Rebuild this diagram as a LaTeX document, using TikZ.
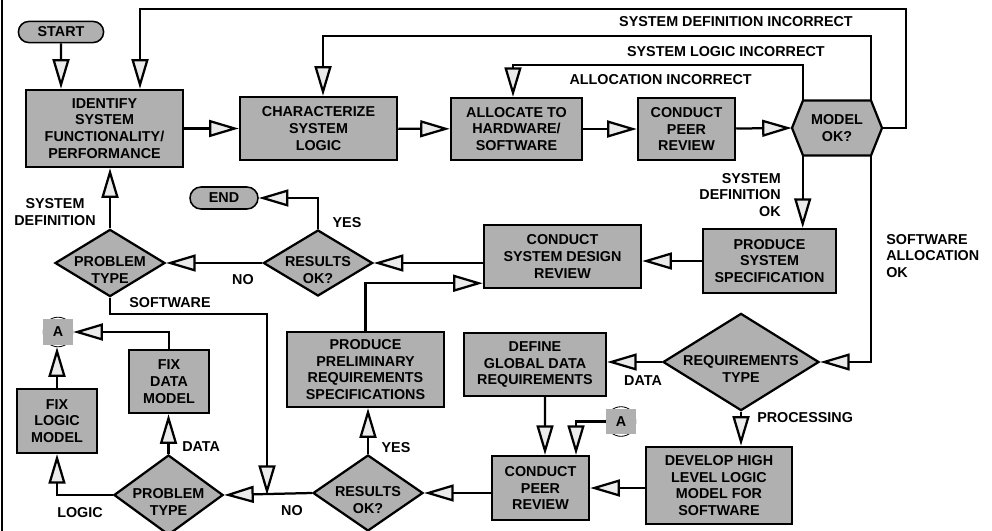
\documentclass[tikz,border=0pt]{standalone}
\usepackage{fontspec}
\setmainfont{Liberation Sans}
\usepackage{xcolor}
\usepackage{tikz}
\usetikzlibrary{arrows.meta, positioning, shapes.geometric, shapes.misc, calc}

\definecolor{boxgray}{gray}{0.69}
\definecolor{tipgray}{gray}{0.92}

\tikzset{
  flowtext/.style={font=\fontsize{10.2}{11.9}\selectfont\bfseries},
  process/.style={flowtext, draw, line width=1.6pt, fill=boxgray, align=center, inner sep=0pt},
  terminal/.style={flowtext, rounded rectangle, draw, line width=1.1pt, fill=boxgray, inner sep=0pt},
  decision/.style={diamond, draw, line width=1.6pt, fill=boxgray, inner sep=0pt},
  dtext/.style={flowtext, align=center, inner sep=0pt, yshift=-0.17cm},
  connector/.style={circle, draw, line width=0.6pt, minimum size=0.74cm, inner sep=0pt},
  csquare/.style={flowtext, fill=boxgray, minimum width=0.75cm, minimum height=0.64cm, inner sep=0pt},
  flow/.style={line width=1.6pt, -{Triangle[length=21pt, width=12pt, fill=tipgray]}},
  wire/.style={line width=1.6pt},
  tag/.style={flowtext, inner sep=0pt},
}

\begin{document}
\begin{tikzpicture}[x=0.025cm, y=-0.025cm]
  % grid of the source sheet: 992 x 531, y runs downwards
  \useasboundingbox (0,0) rectangle (992,531);
  \draw[line width=1.2pt] (2,0) -- (2,531);

  % top row
  \node[terminal, minimum width=2.13cm, minimum height=0.53cm] (start) at (61,32) {START};
  \node[process, minimum width=3.93cm, minimum height=1.93cm] (ident) at (104.5,128.5) {IDENTIFY\\SYSTEM\\FUNCTIONALITY/\\PERFORMANCE};
  \node[process, minimum width=3.93cm, minimum height=1.58cm] (charlogic) at (318.5,128.5) {CHARACTERIZE\\SYSTEM\\LOGIC};
  \node[process, minimum width=3.28cm, minimum height=1.55cm] (alloc) at (516.5,129) {ALLOCATE TO\\HARDWARE/\\SOFTWARE};
  \node[process, minimum width=2.43cm, minimum height=1.55cm] (peertop) at (686.5,129) {CONDUCT\\PEER\\REVIEW};

  % MODEL OK? hexagon, drawn round its centre
  \coordinate (mc) at (837,128);
  \filldraw[wire, fill=boxgray] ($(mc)+(-45,0)$) -- ($(mc)+(-34,-27.5)$) -- ($(mc)+(34,-27.5)$)
    -- ($(mc)+(45,0)$) -- ($(mc)+(34,27.5)$) -- ($(mc)+(-34,27.5)$) -- cycle;
  \node[flowtext, align=center, minimum width=2.25cm, minimum height=1.375cm, inner sep=0pt] (model) at (mc) {MODEL\\OK?};
  \coordinate (mtl) at ($(model.north west)+(11,0)$);
  \coordinate (mtr) at ($(model.north east)+(-11,0)$);
  \coordinate (mbl) at ($(model.south west)+(11,0)$);
  \coordinate (mbr) at ($(model.south east)+(-11,0)$);

  % middle row
  \node[process, minimum width=3.33cm, minimum height=1.6cm] (sysspec) at (769.5,261) {PRODUCE\\SYSTEM\\SPECIFICATION};
  \node[process, minimum width=3.93cm, minimum height=1.58cm] (design) at (562.5,256.5) {CONDUCT\\SYSTEM DESIGN\\REVIEW};
  \node[decision, minimum width=2.73cm, minimum height=1.65cm, label={[dtext]center:{RESULTS\\OK?}}] (resultstop) at (318,263) {};
  \node[decision, minimum width=2.75cm, minimum height=1.68cm, label={[dtext]center:{PROBLEM\\TYPE}}] (problemtop) at (110,263) {};
  \node[terminal, minimum width=1.7cm, minimum height=0.55cm] (end) at (224,198) {END};

  % bottom rows
  \node[connector, label={[csquare]center:A}] (aleft) at (58,332) {};
  \node[process, minimum width=2cm, minimum height=1.58cm] (fixdata) at (169,381.5) {FIX\\DATA\\MODEL};
  \node[process, minimum width=2cm, minimum height=1.6cm] (fixlogic) at (57,421) {FIX\\LOGIC\\MODEL};
  \node[decision, minimum width=2.73cm, minimum height=2cm, label={[dtext]center:{PROBLEM\\TYPE}}] (problembot) at (168.5,495) {};
  \node[process, minimum width=3.93cm, minimum height=1.88cm] (prelim) at (365.5,369.5) {PRODUCE\\PRELIMINARY\\REQUIREMENTS\\SPECIFICATIONS};
  \node[decision, minimum width=2.75cm, minimum height=1.9cm, label={[dtext]center:{RESULTS\\OK?}}] (resultsbot) at (368,493) {};
  \node[process, minimum width=2.43cm, minimum height=1.6cm] (peerbot) at (540.5,488) {CONDUCT\\PEER\\REVIEW};
  \node[process, minimum width=3.55cm, minimum height=1.58cm] (define) at (535,364.5) {DEFINE\\GLOBAL DATA\\REQUIREMENTS};
  \node[connector, label={[csquare]center:A}] (aright) at (621,421.5) {};
  \node[decision, minimum width=3.9cm, minimum height=2.43cm, label={[dtext]center:{REQUIREMENTS\\TYPE}}] (reqtype) at (741,362) {};
  \node[process, minimum width=3.65cm, minimum height=1.93cm] (develop) at (719,485.5) {DEVELOP HIGH\\LEVEL LOGIC\\MODEL FOR\\SOFTWARE};

  % loop-back corners
  \coordinate (defloop) at (906,9);
  \coordinate (logicloop) at (323,36);
  \coordinate (allocloop) at (513,65);
  \coordinate (swbend) at (267,314);
  \coordinate (swjoin) at (267,495);

  % connectors
  \draw[flow] (start) -- (start |- ident.north);
  \draw[flow] (ident) -- (charlogic);
  \draw[flow] (charlogic) -- (alloc);
  \draw[flow] (alloc) -- (peertop);
  \draw[flow] (peertop) -- (model.west);
  \draw[flow] (model.east) -| (defloop) -| ($(ident.north)+(35.5,0)$);
  \draw[flow] (mtr) |- (logicloop) -- (logicloop |- charlogic.north);
  \draw[flow] (mtl) |- (allocloop) -- (allocloop |- alloc.north);
  \draw[flow] (mbl) -- (mbl |- sysspec.north);
  \draw[flow] (mbr) |- (reqtype.east);
  \draw[flow] (sysspec.west) -- (sysspec.west -| design.east);
  \draw[flow] (design.west |- resultstop) -- (resultstop.east);
  \draw[flow] (resultstop.north) |- (end.east);
  \draw[flow] (resultstop.west) -- (problemtop.east);
  \draw[flow] (problemtop.north) -- (problemtop.north |- ident.south);
  \draw[flow] (problemtop.south) |- (swbend) -- (swjoin);
  \draw[flow] (resultsbot.west) -- (problembot.east);
  \draw[flow] (problembot.north) -- (problembot.north |- fixdata.south);
  \draw[flow] (fixdata.north) |- (aleft.east);
  \draw[flow] (problembot.west) -| (fixlogic.south);
  \draw[flow] (fixlogic.north) -- (fixlogic.north |- aleft.south);
  \draw[flow] (resultsbot.north) -- (resultsbot.north |- prelim.south);
  \draw[flow] (prelim.north) |- ($(design.south west)+(0,-6)$);
  \draw[flow] (peerbot.west |- resultsbot) -- (resultsbot.east);
  \draw[flow] ($(define.south)+(10,0)$) -- ($(peerbot.north)+(4.5,0)$);
  \draw[flow] (aright.west) -| ($(peerbot.north)+(35.5,0)$);
  \draw[flow] (reqtype.west) -- (reqtype.west -| define.east);
  \draw[flow] (reqtype.south) -- (reqtype.south |- develop.north);
  \draw[flow] (develop.west |- peerbot) -- (peerbot.east);

  % connector labels
  \node[tag, anchor=east] (lbldef) at (853,22) {SYSTEM DEFINITION INCORRECT};
  \node[tag, anchor=east] (lbllogic) at (825,52) {SYSTEM LOGIC INCORRECT};
  \node[tag, anchor=east] (lblalloc) at (752,80) {ALLOCATION INCORRECT};
  \node[tag, anchor=east, align=right] (lbldefok) at (781,195) {SYSTEM\\DEFINITION\\OK};
  \node[tag, anchor=west, align=left] (lblswok) at (886,256) {SOFTWARE\\ALLOCATION\\OK};
  \node[tag] (lblyestop) at (347,223) {YES};
  \node[tag] (lblnotop) at (243,280) {NO};
  \node[tag, align=center] (lblsysdef) at (55,212) {SYSTEM\\DEFINITION};
  \node[tag] (lblsw) at (170,303) {SOFTWARE};
  \node[tag, anchor=west] (lbldata) at (182,447) {DATA};
  \node[tag] (lbllogicfix) at (80,513) {LOGIC};
  \node[tag] (lblnobot) at (292,511) {NO};
  \node[tag] (lblyesbot) at (396,448) {YES};
  \node[tag] (lbldatareq) at (643,381) {DATA};
  \node[tag, anchor=west] (lblproc) at (757,418) {PROCESSING};
\end{tikzpicture}
\end{document}
